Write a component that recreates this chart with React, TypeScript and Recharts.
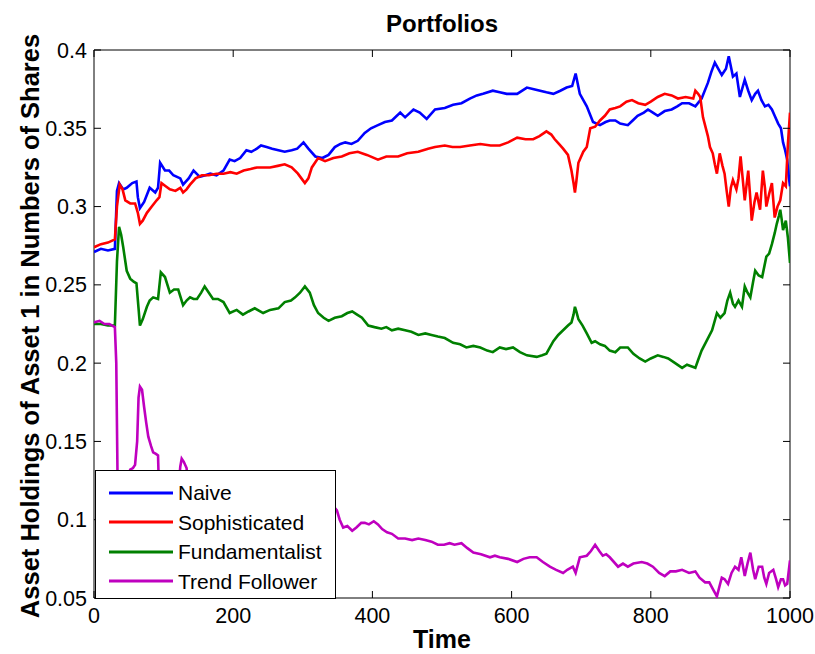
import { Legend, Line, LineChart, ReferenceArea, XAxis, YAxis } from 'recharts'

type Pt = [number, number]

const X_TICKS = [0, 200, 400, 600, 800, 1000]
const Y_TICKS = [0.05, 0.1, 0.15, 0.2, 0.25, 0.3, 0.35, 0.4]
const Y_LABELS = ['0.05', '0.1', '0.15', '0.2', '0.25', '0.3', '0.35', '0.4']

const NAIVE: Pt[] = [
  [0, 0.271], [10, 0.273], [20, 0.272], [30, 0.273], [33, 0.31], [36, 0.315], [42, 0.311], [47, 0.312],
  [55, 0.315], [61, 0.316], [63, 0.306], [66, 0.299], [72, 0.303], [80, 0.312], [88, 0.309], [92, 0.312],
  [95, 0.328], [102, 0.323], [108, 0.323], [114, 0.32], [124, 0.318], [128, 0.314], [136, 0.318], [143, 0.323],
  [152, 0.319], [160, 0.32], [167, 0.321], [176, 0.32], [186, 0.323], [195, 0.33], [202, 0.329], [210, 0.331],
  [219, 0.336], [226, 0.335], [234, 0.337], [240, 0.339], [248, 0.338], [256, 0.337], [265, 0.336], [274, 0.335],
  [284, 0.336], [292, 0.337], [301, 0.341], [308, 0.337], [318, 0.332], [328, 0.331], [337, 0.333], [346, 0.338],
  [354, 0.34], [361, 0.341], [370, 0.34], [379, 0.342], [389, 0.347], [398, 0.35], [408, 0.352], [418, 0.354],
  [428, 0.355], [440, 0.36], [447, 0.357], [459, 0.362], [468, 0.36], [478, 0.356], [490, 0.362], [504, 0.363],
  [516, 0.365], [528, 0.366], [540, 0.369], [550, 0.371], [559, 0.372], [573, 0.374], [583, 0.373], [593, 0.372],
  [608, 0.372], [622, 0.376], [632, 0.375], [641, 0.374], [650, 0.373], [660, 0.372], [670, 0.374], [679, 0.376],
  [687, 0.377], [692, 0.385], [698, 0.372], [708, 0.364], [717, 0.354], [727, 0.352], [735, 0.354], [741, 0.355],
  [749, 0.355], [756, 0.353], [767, 0.352], [774, 0.355], [781, 0.358], [790, 0.36], [796, 0.362], [803, 0.36],
  [810, 0.358], [820, 0.361], [830, 0.362], [838, 0.364], [845, 0.366], [855, 0.366], [864, 0.364], [873, 0.369],
  [882, 0.379], [887, 0.386], [892, 0.392], [897, 0.388], [902, 0.384], [908, 0.388], [912, 0.396], [918, 0.383],
  [923, 0.385], [928, 0.37], [935, 0.381], [940, 0.374], [945, 0.368], [950, 0.372], [954, 0.374], [959, 0.368],
  [964, 0.364], [969, 0.365], [974, 0.362], [978, 0.358], [983, 0.353], [987, 0.35], [990, 0.341], [993, 0.336],
  [996, 0.33], [998, 0.32], [1000, 0.313],
]

const SOPHISTICATED: Pt[] = [
  [0, 0.274], [10, 0.276], [20, 0.277], [30, 0.279], [33, 0.3], [37, 0.314], [41, 0.311], [45, 0.304],
  [52, 0.302], [59, 0.302], [63, 0.296], [66, 0.289], [70, 0.291], [76, 0.296], [83, 0.3], [90, 0.304],
  [94, 0.306], [97, 0.315], [103, 0.313], [109, 0.311], [117, 0.31], [124, 0.312], [128, 0.309], [133, 0.311],
  [138, 0.314], [146, 0.318], [155, 0.32], [165, 0.32], [176, 0.321], [186, 0.321], [196, 0.322], [205, 0.321],
  [215, 0.323], [225, 0.324], [234, 0.325], [244, 0.325], [253, 0.325], [264, 0.326], [274, 0.327], [284, 0.325],
  [293, 0.321], [298, 0.318], [303, 0.315], [308, 0.318], [313, 0.325], [322, 0.331], [332, 0.329], [344, 0.331],
  [356, 0.332], [367, 0.334], [379, 0.335], [392, 0.333], [408, 0.33], [420, 0.332], [437, 0.332], [450, 0.334],
  [466, 0.335], [480, 0.337], [490, 0.338], [504, 0.339], [515, 0.338], [526, 0.338], [540, 0.339], [555, 0.34],
  [570, 0.339], [583, 0.339], [595, 0.341], [608, 0.344], [620, 0.343], [631, 0.343], [640, 0.345], [650, 0.348],
  [657, 0.346], [662, 0.343], [668, 0.34], [674, 0.337], [681, 0.333], [686, 0.323], [689, 0.315], [691, 0.309],
  [693, 0.316], [696, 0.328], [703, 0.335], [708, 0.338], [713, 0.35], [720, 0.351], [727, 0.355], [734, 0.358],
  [741, 0.362], [749, 0.363], [756, 0.364], [765, 0.367], [773, 0.368], [782, 0.366], [792, 0.365], [800, 0.367],
  [810, 0.37], [820, 0.372], [830, 0.371], [839, 0.369], [850, 0.37], [861, 0.369], [864, 0.374], [868, 0.372],
  [871, 0.37], [875, 0.357], [882, 0.345], [885, 0.338], [889, 0.334], [892, 0.327], [895, 0.321], [899, 0.334],
  [903, 0.326], [906, 0.321], [909, 0.31], [912, 0.3], [915, 0.312], [918, 0.317], [923, 0.311], [926, 0.318],
  [929, 0.332], [932, 0.318], [935, 0.304], [940, 0.323], [943, 0.305], [945, 0.291], [949, 0.303], [952, 0.309],
  [957, 0.298], [961, 0.323], [964, 0.312], [966, 0.3], [970, 0.308], [974, 0.315], [978, 0.293], [982, 0.3],
  [986, 0.304], [990, 0.315], [994, 0.313], [997, 0.34], [1000, 0.36],
]

const FUNDAMENTALIST: Pt[] = [
  [0, 0.225], [10, 0.225], [20, 0.224], [30, 0.224], [33, 0.265], [36, 0.287], [39, 0.282], [42, 0.274],
  [47, 0.259], [52, 0.254], [57, 0.252], [61, 0.251], [64, 0.235], [66, 0.224], [70, 0.228], [76, 0.236],
  [80, 0.24], [85, 0.242], [92, 0.241], [96, 0.258], [102, 0.255], [109, 0.245], [115, 0.247], [121, 0.247],
  [128, 0.237], [133, 0.24], [138, 0.242], [143, 0.241], [148, 0.241], [154, 0.245], [159, 0.249], [165, 0.245],
  [171, 0.241], [178, 0.241], [186, 0.239], [195, 0.232], [205, 0.234], [214, 0.231], [222, 0.233], [231, 0.235],
  [243, 0.232], [253, 0.234], [265, 0.235], [274, 0.239], [283, 0.24], [289, 0.242], [296, 0.245], [303, 0.249],
  [310, 0.245], [316, 0.237], [322, 0.232], [330, 0.229], [337, 0.227], [346, 0.229], [356, 0.23], [364, 0.232],
  [371, 0.233], [378, 0.231], [385, 0.229], [394, 0.224], [403, 0.223], [413, 0.222], [420, 0.223], [428, 0.221],
  [437, 0.222], [447, 0.221], [456, 0.22], [466, 0.218], [476, 0.219], [485, 0.218], [494, 0.217], [504, 0.216],
  [516, 0.213], [526, 0.212], [535, 0.21], [545, 0.211], [555, 0.21], [565, 0.208], [573, 0.207], [583, 0.21],
  [592, 0.209], [602, 0.21], [612, 0.207], [622, 0.205], [636, 0.204], [644, 0.205], [650, 0.206], [655, 0.21],
  [660, 0.214], [667, 0.218], [674, 0.221], [681, 0.224], [686, 0.226], [689, 0.231], [691, 0.236], [693, 0.233],
  [696, 0.228], [702, 0.224], [708, 0.219], [715, 0.213], [720, 0.214], [727, 0.212], [734, 0.211], [741, 0.208],
  [749, 0.207], [756, 0.21], [767, 0.21], [775, 0.206], [784, 0.203], [792, 0.201], [800, 0.203], [810, 0.205],
  [818, 0.204], [825, 0.203], [835, 0.2], [845, 0.197], [852, 0.199], [858, 0.198], [864, 0.197], [868, 0.202],
  [873, 0.208], [880, 0.214], [888, 0.221], [895, 0.232], [900, 0.229], [906, 0.232], [910, 0.24], [914, 0.245],
  [918, 0.238], [921, 0.236], [926, 0.24], [931, 0.236], [935, 0.249], [939, 0.245], [943, 0.242], [947, 0.252],
  [950, 0.259], [955, 0.256], [960, 0.255], [966, 0.268], [970, 0.27], [974, 0.276], [978, 0.283], [981, 0.289],
  [984, 0.294], [986, 0.298], [988, 0.292], [990, 0.285], [994, 0.291], [997, 0.28], [1000, 0.264],
]

const TREND_FOLLOWER: Pt[] = [
  [0, 0.226], [8, 0.227], [15, 0.225], [22, 0.225], [30, 0.223], [32, 0.2], [34, 0.12], [38, 0.105],
  [44, 0.112], [48, 0.125], [52, 0.132], [56, 0.133], [59, 0.135], [62, 0.15], [64, 0.178], [66, 0.185],
  [69, 0.183], [72, 0.172], [75, 0.162], [78, 0.153], [82, 0.147], [85, 0.143], [89, 0.142], [92, 0.141],
  [93, 0.125], [97, 0.118], [105, 0.117], [112, 0.12], [118, 0.121], [122, 0.124], [124, 0.134], [126, 0.139],
  [129, 0.137], [133, 0.133], [136, 0.12], [145, 0.118], [160, 0.12], [180, 0.117], [200, 0.115], [220, 0.118],
  [240, 0.12], [260, 0.119], [280, 0.118], [300, 0.116], [320, 0.115], [334, 0.113], [341, 0.111], [345, 0.108],
  [349, 0.106], [353, 0.1], [358, 0.095], [364, 0.096], [371, 0.093], [377, 0.095], [384, 0.098], [389, 0.098],
  [395, 0.097], [402, 0.099], [408, 0.097], [414, 0.094], [421, 0.092], [428, 0.091], [437, 0.088], [447, 0.088],
  [457, 0.087], [466, 0.088], [476, 0.087], [485, 0.086], [494, 0.084], [503, 0.084], [511, 0.085], [518, 0.084],
  [528, 0.085], [536, 0.082], [545, 0.079], [556, 0.078], [569, 0.076], [576, 0.077], [583, 0.076], [595, 0.075],
  [608, 0.073], [617, 0.075], [626, 0.076], [636, 0.076], [645, 0.073], [655, 0.07], [664, 0.068], [674, 0.066],
  [680, 0.068], [688, 0.07], [692, 0.066], [698, 0.076], [708, 0.077], [714, 0.08], [720, 0.084], [726, 0.08],
  [731, 0.077], [736, 0.078], [741, 0.076], [753, 0.07], [760, 0.072], [767, 0.07], [775, 0.072], [787, 0.073],
  [795, 0.072], [803, 0.07], [812, 0.066], [820, 0.064], [828, 0.067], [836, 0.067], [845, 0.068], [855, 0.066],
  [864, 0.067], [870, 0.063], [878, 0.06], [884, 0.06], [890, 0.055], [895, 0.051], [899, 0.058], [902, 0.063],
  [906, 0.062], [911, 0.059], [916, 0.066], [921, 0.07], [926, 0.068], [930, 0.076], [935, 0.064], [939, 0.072],
  [943, 0.079], [947, 0.068], [950, 0.062], [955, 0.07], [960, 0.07], [963, 0.063], [966, 0.059], [970, 0.066],
  [976, 0.068], [980, 0.062], [983, 0.057], [987, 0.062], [990, 0.062], [993, 0.058], [996, 0.059], [1000, 0.074],
]

const SERIES = [
  { name: 'Naive', color: '#0000ff', points: NAIVE },
  { name: 'Sophisticated', color: '#ff0000', points: SOPHISTICATED },
  { name: 'Fundamentalist', color: '#008000', points: FUNDAMENTALIST },
  { name: 'Trend Follower', color: '#bf00bf', points: TREND_FOLLOWER },
]

const FONT = '"Liberation Sans", Arial, Helvetica, sans-serif'
const W = 815
const H = 654
const LEFT = 94
const RIGHT = 790
const TOP = 50
const BOTTOM = 598
const TICK = 7

function XTick({ x, payload }: any) {
  return (
    <g>
      <line x1={x} x2={x} y1={BOTTOM} y2={BOTTOM - TICK} stroke="#000" />
      <line x1={x} x2={x} y1={TOP} y2={TOP + TICK} stroke="#000" />
      <text x={x} y={BOTTOM + 25} textAnchor="middle" fontSize={21.5} fontFamily={FONT} fill="#000">
        {payload.value}
      </text>
    </g>
  )
}

function YTick({ y, payload }: any) {
  const i = Y_TICKS.indexOf(payload.value)
  return (
    <g>
      <line x1={LEFT} x2={LEFT + TICK} y1={y} y2={y} stroke="#000" />
      <line x1={RIGHT} x2={RIGHT - TICK} y1={y} y2={y} stroke="#000" />
      <text x={LEFT - 7} y={y + 7.5} textAnchor="end" fontSize={21.5} fontFamily={FONT} fill="#000">
        {i >= 0 ? Y_LABELS[i] : payload.value}
      </text>
    </g>
  )
}

function LegendBox() {
  return (
    <div
      style={{
        width: 241,
        height: 129,
        boxSizing: 'border-box',
        border: '1px solid #000',
        background: '#fff',
        paddingTop: 7,
        fontFamily: FONT,
        fontSize: 21,
        color: '#000',
      }}
    >
      {SERIES.map((s) => (
        <div key={s.name} style={{ display: 'flex', alignItems: 'center', height: 29.5 }}>
          <svg width={78} height={10} style={{ flex: 'none' }}>
            <line x1={13} x2={77} y1={5} y2={5} stroke={s.color} strokeWidth={3} />
          </svg>
          <span style={{ marginLeft: 4, lineHeight: '21px' }}>{s.name}</span>
        </div>
      ))}
    </div>
  )
}

export default function App() {
  return (
    <div style={{ position: 'absolute', left: 0, top: 0, width: W, height: H, background: '#fff' }}>
      <div
        style={{
          position: 'absolute',
          left: LEFT,
          width: RIGHT - LEFT,
          top: 10,
          textAlign: 'center',
          fontFamily: FONT,
          fontWeight: 'bold',
          fontSize: 24,
          color: '#000',
        }}
      >
        Portfolios
      </div>
      <LineChart width={W} height={H} margin={{ top: TOP, right: W - RIGHT, bottom: 0, left: 0 }}>
        <XAxis
          type="number"
          dataKey="t"
          domain={[0, 1000]}
          ticks={X_TICKS}
          height={H - BOTTOM}
          axisLine={false}
          tickLine={false}
          tick={<XTick />}
          allowDataOverflow
          label={() => (
            <text x={(LEFT + RIGHT) / 2} y={648} textAnchor="middle" fontSize={25} fontWeight="bold" fontFamily={FONT} fill="#000">
              Time
            </text>
          )}
        />
        <YAxis
          type="number"
          dataKey="v"
          domain={[0.05, 0.4]}
          ticks={Y_TICKS}
          width={LEFT}
          axisLine={false}
          tickLine={false}
          tick={<YTick />}
          allowDataOverflow
          label={() => (
            <text
              transform={`translate(39,${(TOP + BOTTOM) / 2 + 2}) rotate(-90)`}
              textAnchor="middle"
              fontSize={25.5}
              fontWeight="bold"
              fontFamily={FONT}
              fill="#000"
            >
              Asset Holdings of Asset 1 in Numbers of Shares
            </text>
          )}
        />
        <ReferenceArea x1={0} x2={1000} y1={0.05} y2={0.4} fill="none" stroke="#000" strokeWidth={1} />
        {SERIES.map((s) => (
          <Line
            key={s.name}
            name={s.name}
            data={s.points.map(([t, v]) => ({ t, v }))}
            dataKey="v"
            type="linear"
            stroke={s.color}
            strokeWidth={2.6}
            dot={false}
            activeDot={false}
            isAnimationActive={false}
          />
        ))}
        <Legend
          layout="vertical"
          align="center"
          verticalAlign="middle"
          wrapperStyle={{ left: LEFT + 1, top: 470, width: 241, height: 129 }}
          content={() => <LegendBox />}
        />
      </LineChart>
    </div>
  )
}
